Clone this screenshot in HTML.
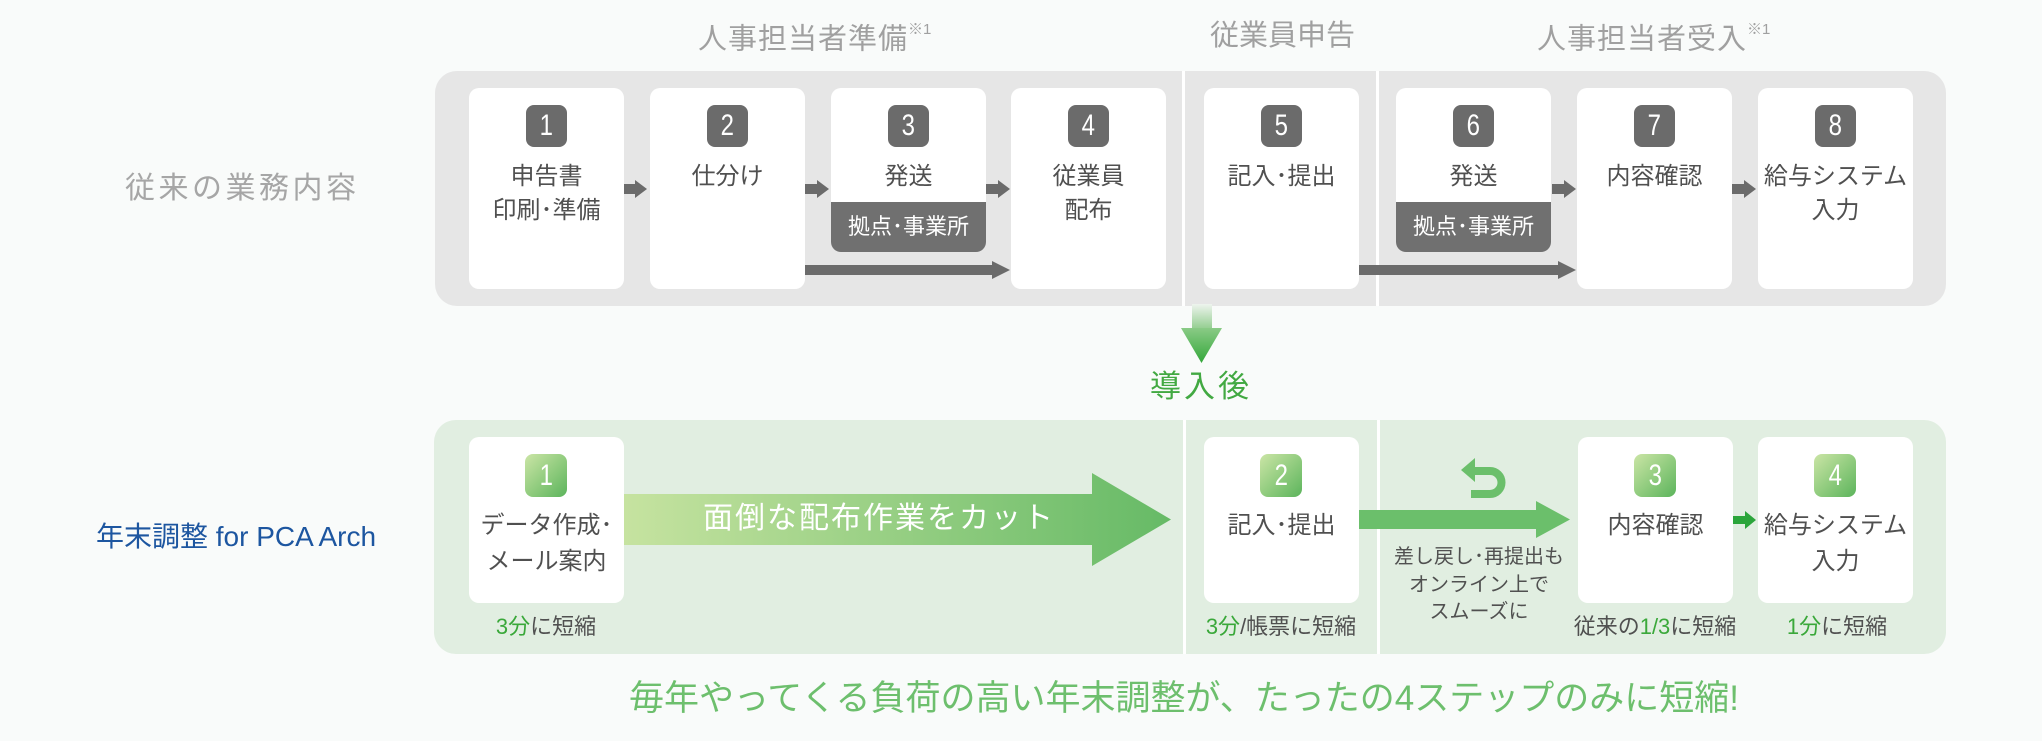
<!DOCTYPE html>
<html><head><meta charset="utf-8">
<style>
*{margin:0;padding:0;box-sizing:border-box}
html,body{width:2042px;height:741px}
body{background:#f9fbfa;position:relative;overflow:hidden;font-family:"Liberation Sans","Noto Sans CJK JP",sans-serif;}
.a{position:absolute}
.t{position:absolute;white-space:nowrap;text-align:center}
.box{position:absolute;background:#fff;border-radius:10px}
.badge{position:absolute;width:41px;height:42px;border-radius:8px;background:#6b6b6b;color:#fff;font-size:30px;line-height:42px;text-align:center;font-family:"Liberation Sans",sans-serif}
.badge span{display:inline-block;transform:scaleX(.8)}
.g{width:42px;height:43px;line-height:43px;background:linear-gradient(135deg,#cbe5a6 0%,#93cd80 50%,#5cb45c 100%)}
.bt{font-size:24px;line-height:34px;color:#505050;width:155px}
.bb{font-size:24px;line-height:36px;color:#505050;width:155px}
.sub{position:absolute;background:#707070;color:#fff;font-size:22px;line-height:50px;text-align:center;border-radius:0 0 10px 10px;width:155px;height:50px;top:202px}
.ttl{font-size:29px;line-height:40px;color:#a0a0a0;letter-spacing:1px;text-align:left}
.ttl sup{font-size:15px;position:relative;top:-4px;letter-spacing:0}
.lab{font-size:22px;line-height:30px;color:#505050;top:612px}
.gr{color:#3aa83a}
.div{position:absolute;width:3px;background:#fff}
</style></head><body>

<!-- titles -->
<div class="t ttl" style="left:698px;top:14px">人事担当者準備<sup>※1</sup></div>
<div class="t ttl" style="left:1210px;top:16px;letter-spacing:0">従業員申告</div>
<div class="t ttl" style="left:1537px;top:14px">人事担当者受入<sup>※1</sup></div>

<!-- left labels -->
<div class="t" style="left:125px;top:169px;font-size:30px;line-height:40px;letter-spacing:3.5px;color:#a6a6a6;text-align:left">従来の業務内容</div>
<div class="t" style="left:96px;top:517px;font-size:28px;line-height:40px;color:#1d56a0;text-align:left">年末調整 for PCA Arch</div>

<!-- panels -->
<div class="a" style="left:435px;top:71px;width:1511px;height:235px;background:#e6e6e6;border-radius:22px"></div>
<div class="div" style="left:1182px;top:71px;height:235px"></div>
<div class="div" style="left:1376px;top:71px;height:235px"></div>

<div class="a" style="left:434px;top:420px;width:1512px;height:234px;background:#e1eee1;border-radius:22px"></div>
<div class="div" style="left:1183px;top:420px;height:234px"></div>
<div class="div" style="left:1377px;top:420px;height:234px"></div>

<!-- arrows -->
<svg class="a" style="left:0;top:0" width="2042" height="741" viewBox="0 0 2042 741">
<defs>
<linearGradient id="big" x1="624" y1="0" x2="1171" y2="0" gradientUnits="userSpaceOnUse">
<stop offset="0" stop-color="#c6e3a0"/><stop offset="1" stop-color="#66ba66"/>
</linearGradient>
<linearGradient id="dshaft" x1="0" y1="304" x2="0" y2="328" gradientUnits="userSpaceOnUse">
<stop offset="0" stop-color="#eef4ee"/><stop offset="1" stop-color="#96cf93"/>
</linearGradient>
<linearGradient id="dhead" x1="0" y1="328" x2="0" y2="363" gradientUnits="userSpaceOnUse">
<stop offset="0" stop-color="#8acb86"/><stop offset="1" stop-color="#34a73a"/>
</linearGradient>
</defs>
<g fill="#6b6b6b">
<polygon points="624,184 635,184 635,180 647,189 635,198 635,194 624,194"/>
<polygon points="805,184 817,184 817,180 829,189 817,198 817,194 805,194"/>
<polygon points="986,184 998,184 998,180 1010,189 998,198 998,194 986,194"/>
<polygon points="1552,184 1564,184 1564,180 1576,189 1564,198 1564,194 1552,194"/>
<polygon points="1732,184 1744,184 1744,180 1756,189 1744,198 1744,194 1732,194"/>
<polygon points="804,265 992,265 992,261 1010,270 992,279 992,275 804,275"/>
<polygon points="1359,265 1558,265 1558,261 1576,270 1558,279 1558,275 1359,275"/>
</g>
<rect x="1192" y="304" width="20" height="24" fill="url(#dshaft)"/>
<polygon points="1181,328 1222,328 1201.5,363" fill="url(#dhead)"/>
<polygon points="624,494 1092,494 1092,473 1171,519.5 1092,566 1092,545 624,545" fill="url(#big)"/>
<polygon points="1359,510 1536,510 1536,501 1570,519.5 1536,538 1536,529 1359,529" fill="#6bbf6b"/>
<polygon points="1733,516 1745,516 1745,511 1756,520 1745,529 1745,524 1733,524" fill="#2ba53b"/>
<path d="M1472,471 H1490 A11.5,11.5 0 0 1 1490,494 H1471" stroke="#6bbf6b" stroke-width="8" fill="none"/>
<polygon points="1461,470 1475,458 1475,482" fill="#6bbf6b"/>
</svg>

<!-- top boxes -->
<div class="box" style="left:469px;top:88px;width:155px;height:201px"></div>
<div class="box" style="left:650px;top:88px;width:155px;height:201px"></div>
<div class="box" style="left:831px;top:88px;width:155px;height:164px"></div>
<div class="box" style="left:1011px;top:88px;width:155px;height:201px"></div>
<div class="box" style="left:1204px;top:88px;width:155px;height:201px"></div>
<div class="box" style="left:1396px;top:88px;width:155px;height:164px"></div>
<div class="box" style="left:1577px;top:88px;width:155px;height:201px"></div>
<div class="box" style="left:1758px;top:88px;width:155px;height:201px"></div>

<div class="badge" style="left:526px;top:105px"><span>1</span></div>
<div class="badge" style="left:707px;top:105px"><span>2</span></div>
<div class="badge" style="left:888px;top:105px"><span>3</span></div>
<div class="badge" style="left:1068px;top:105px"><span>4</span></div>
<div class="badge" style="left:1261px;top:105px"><span>5</span></div>
<div class="badge" style="left:1453px;top:105px"><span>6</span></div>
<div class="badge" style="left:1634px;top:105px"><span>7</span></div>
<div class="badge" style="left:1815px;top:105px"><span>8</span></div>

<div class="t bt" style="left:469px;top:160px">申告書<br>印刷･準備</div>
<div class="t bt" style="left:650px;top:160px">仕分け</div>
<div class="t bt" style="left:831px;top:160px">発送</div>
<div class="sub" style="left:831px">拠点･事業所</div>
<div class="t bt" style="left:1011px;top:160px">従業員<br>配布</div>
<div class="t bt" style="left:1204px;top:160px">記入･提出</div>
<div class="t bt" style="left:1396px;top:160px">発送</div>
<div class="sub" style="left:1396px">拠点･事業所</div>
<div class="t bt" style="left:1577px;top:160px">内容確認</div>
<div class="t bt" style="left:1758px;top:160px">給与システム<br>入力</div>

<!-- middle -->
<div class="t" style="left:1140px;width:122px;top:367px;font-size:31px;line-height:40px;letter-spacing:3px;color:#42a942">導入後</div>

<!-- bottom boxes -->
<div class="box" style="left:469px;top:437px;width:155px;height:166px"></div>
<div class="box" style="left:1204px;top:437px;width:155px;height:166px"></div>
<div class="box" style="left:1578px;top:437px;width:155px;height:166px"></div>
<div class="box" style="left:1758px;top:437px;width:155px;height:166px"></div>

<div class="badge g" style="left:525px;top:454px"><span>1</span></div>
<div class="badge g" style="left:1260px;top:454px"><span>2</span></div>
<div class="badge g" style="left:1634px;top:454px"><span>3</span></div>
<div class="badge g" style="left:1814px;top:454px"><span>4</span></div>

<div class="t bb" style="left:469px;top:508px">データ作成･<br>メール案内</div>
<div class="t bb" style="left:1204px;top:508px">記入･提出</div>
<div class="t bb" style="left:1578px;top:508px">内容確認</div>
<div class="t bb" style="left:1758px;top:508px">給与システム<br>入力</div>

<div class="t" style="left:703px;top:499px;font-size:30px;line-height:40px;letter-spacing:2px;color:#fff;text-align:left">面倒な配布作業をカット</div>

<div class="t" style="left:1379px;width:200px;top:544px;font-size:20px;line-height:27.5px;color:#505050">差し戻し･再提出も<br>オンライン上で<br>スムーズに</div>

<div class="t lab" style="left:446px;width:200px"><span class="gr">3分</span>に短縮</div>
<div class="t lab" style="left:1181px;width:200px"><span class="gr">3分</span>/帳票に短縮</div>
<div class="t lab" style="left:1555px;width:200px">従来の<span class="gr">1/3</span>に短縮</div>
<div class="t lab" style="left:1737px;width:200px"><span class="gr">1分</span>に短縮</div>

<!-- bottom message -->
<div class="t" style="left:629px;top:677px;font-size:35px;line-height:44px;color:#6dbf6d;text-align:left">毎年やってくる負荷の高い年末調整が、たったの4ステップのみに短縮!</div>

</body></html>
